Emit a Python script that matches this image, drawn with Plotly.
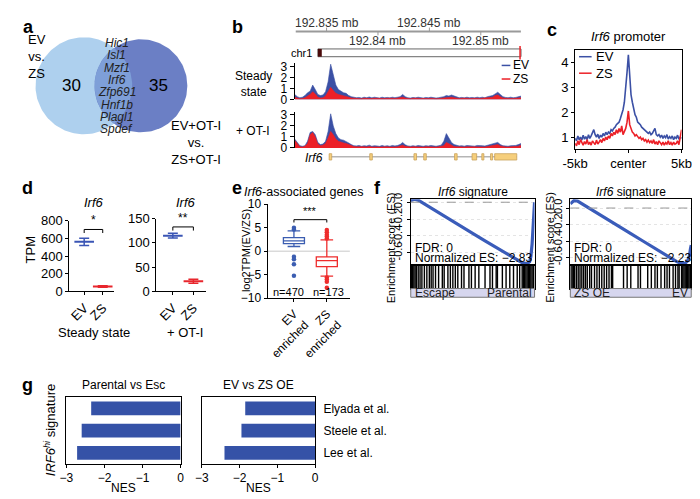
import numpy as np
import plotly.graph_objects as go

W, H = 700, 499
FONT = "Liberation Sans, Arial, Helvetica, sans-serif"
BLUE = "#3b50a5"
RED = "#ec2027"
GSEA_BLUE = "#3a5cba"
BAR_BLUE = "#3552a7"

# ---- a: Venn diagram
venn_counts = [30, 35]
venn_sets = ["EV<br>vs.<br>ZS", "EV+OT-I<br>vs.<br>ZS+OT-I"]
venn_shared = ["Hic1", "Isl1", "Mzf1", "Irf6", "Zfp691", "Hnf1b", "Plagl1", "Spdef"]

# ---- b: genome browser tracks (kb from track start, 0.25 kb bins)
track_start_mb = 192.8319
scale_mb = [192.835, 192.84, 192.845, 192.85]
scale_text = ["192.835 mb", "192.84 mb", "192.845 mb", "192.85 mb"]
track_kb = np.arange(89) * 0.25
ss_ev = [0.45, 0.25, 0.15, 0.2, 0.35, 0.6, 0.75, 1.3, 0.9, 0.45,
         0.35, 0.4, 0.7, 1.6, 3.2, 2.3, 1.3, 0.9, 0.75, 0.6,
         0.55, 0.35, 0.25, 0.2, 0.15, 0.18, 0.12, 0.2, 0.15, 0.22,
         0.14, 0.2, 0.16, 0.12, 0.2, 0.15, 0.18, 0.14, 0.2, 0.16,
         0.2, 0.25, 0.45, 0.25, 0.15, 0.12, 0.18, 0.14, 0.2, 0.15,
         0.12, 0.18, 0.15, 0.2, 0.14, 0.12, 0.16, 0.2, 0.25, 0.35,
         0.3, 0.4, 0.3, 0.2, 0.15, 0.18, 0.14, 0.2, 0.15, 0.18,
         0.14, 0.2, 0.16, 0.2, 0.15, 0.25, 0.3, 0.35, 0.5, 0.65,
         0.45, 0.25, 0.18, 0.15, 0.2, 0.15, 0.18, 0.25, 0.3]
ss_zs = [0.2, 0.1, 0.06, 0.08, 0.15, 0.3, 0.45, 0.7, 0.5, 0.2,
         0.12, 0.15, 0.3, 0.7, 1.1, 0.8, 0.55, 0.45, 0.4, 0.3,
         0.25, 0.2, 0.12, 0.1, 0.08, 0.1, 0.06, 0.1, 0.08, 0.12,
         0.07, 0.1, 0.08, 0.06, 0.1, 0.08, 0.1, 0.07, 0.1, 0.08,
         0.1, 0.12, 0.2, 0.12, 0.08, 0.06, 0.1, 0.07, 0.1, 0.08,
         0.06, 0.1, 0.08, 0.1, 0.07, 0.06, 0.08, 0.1, 0.12, 0.2,
         0.18, 0.2, 0.15, 0.1, 0.08, 0.1, 0.07, 0.1, 0.08, 0.1,
         0.07, 0.1, 0.08, 0.1, 0.08, 0.12, 0.15, 0.2, 0.35, 0.4,
         0.25, 0.12, 0.1, 0.08, 0.1, 0.08, 0.1, 0.12, 0.15]
ot_ev = [0.8, 0.5, 0.2, 0.15, 0.2, 0.6, 1.4, 1.5, 1.2, 0.5,
         0.3, 0.35, 0.6, 1.5, 3.1, 2.0, 1.3, 0.9, 0.75, 0.7,
         0.6, 0.45, 0.3, 0.2, 0.18, 0.22, 0.15, 0.2, 0.17, 0.25,
         0.15, 0.2, 0.18, 0.14, 0.22, 0.16, 0.2, 0.15, 0.22, 0.18,
         0.22, 0.3, 0.5, 0.28, 0.18, 0.15, 0.2, 0.16, 0.22, 0.18,
         0.15, 0.2, 0.17, 0.22, 0.16, 0.15, 0.2, 0.25, 0.6, 1.3,
         0.9, 0.5, 0.3, 0.22, 0.18, 0.2, 0.16, 0.22, 0.18, 0.2,
         0.16, 0.22, 0.18, 0.2, 0.17, 0.25, 0.3, 0.35, 0.45, 0.5,
         0.3, 0.2, 0.18, 0.15, 0.2, 0.18, 0.22, 0.3, 0.4]
ot_zs = [0.7, 0.4, 0.1, 0.08, 0.15, 0.4, 1.2, 1.4, 1.0, 0.35,
         0.2, 0.25, 0.4, 0.9, 1.5, 1.2, 0.8, 0.6, 0.5, 0.45,
         0.4, 0.3, 0.2, 0.12, 0.1, 0.12, 0.08, 0.1, 0.09, 0.12,
         0.08, 0.1, 0.09, 0.07, 0.1, 0.08, 0.1, 0.08, 0.11, 0.09,
         0.1, 0.15, 0.25, 0.14, 0.09, 0.08, 0.1, 0.08, 0.11, 0.09,
         0.07, 0.1, 0.08, 0.1, 0.08, 0.07, 0.1, 0.12, 0.2, 0.5,
         0.35, 0.2, 0.12, 0.1, 0.08, 0.1, 0.08, 0.1, 0.09, 0.1,
         0.08, 0.1, 0.09, 0.1, 0.08, 0.12, 0.15, 0.18, 0.25, 0.3,
         0.18, 0.1, 0.09, 0.08, 0.1, 0.09, 0.1, 0.15, 0.25]
exon_start = [3.35, 7.3, 11.6, 12.55, 15.55, 17.25, 18.2, 19.05, 19.45]
exon_end = [3.6, 7.55, 11.85, 12.8, 15.8, 17.7, 18.4, 19.25, 21.6]

# ---- c: promoter profile
prof_kb = np.arange(81) * 0.125 - 5
prof_ev = [0.95, 0.85, 1.05, 0.9, 1.0, 0.88, 1.08, 0.92, 1.02, 0.9,
           1.1, 0.95, 1.05, 1.15, 1.3, 1.1, 1.0, 1.12, 0.95, 1.08,
           1.0, 1.15, 1.05, 1.2, 1.1, 1.2, 1.15, 1.3, 1.25, 1.35,
           1.4, 1.5, 1.55, 1.6, 1.75, 1.9, 2.1, 2.4, 2.9, 3.6,
           4.3, 3.3, 2.7, 2.4, 2.1, 1.9, 1.8, 1.6, 1.55, 1.5,
           1.4, 1.35, 1.3, 1.25, 1.2, 1.15, 1.2, 1.1, 1.15, 1.25,
           1.35, 1.1, 1.05, 1.1, 1.0, 1.08, 0.95, 1.05, 0.98, 1.1,
           0.92, 1.02, 0.95, 1.05, 0.9, 1.0, 0.95, 1.08, 0.92, 1.0,
           0.95]
prof_zs = [0.75, 0.65, 0.85, 0.7, 0.9, 0.75, 0.68, 0.82, 0.72, 0.9,
           0.7, 0.8, 0.68, 0.85, 0.75, 0.7, 0.88, 0.72, 0.8, 0.9,
           0.78, 0.95, 0.85, 1.0, 0.9, 1.05, 0.95, 1.15, 1.05, 1.2,
           1.1, 1.3, 1.15, 1.35, 1.2, 1.45, 1.1, 1.2, 1.35, 1.6,
           2.05, 1.5, 1.3, 1.2, 1.15, 1.05, 1.1, 1.0, 0.95, 1.0,
           0.9, 0.95, 0.85, 0.9, 0.8, 0.88, 0.78, 0.85, 0.75, 0.9,
           0.72, 0.82, 0.7, 0.85, 0.75, 0.7, 0.8, 0.68, 0.78, 0.72,
           0.85, 0.7, 0.78, 0.68, 0.8, 0.72, 0.75, 0.85, 0.7, 0.95,
           1.3]

# ---- d: Irf6 TPM
d_groups = ["EV", "ZS"]
ss_mean = [560, 55]
ss_err = [40, 8]
ot_mean = [115, 21]
ot_err = [5, 4]
ss_bracket = 700
ot_bracket = 133

# ---- e: Irf6-associated genes
e_groups = ["EV<br>enriched", "ZS<br>enriched"]
e_q1 = [1.6, -3.3]
e_med = [2.2, -2.0]
e_q3 = [2.9, -1.2]
e_lo = [1.0, -5.3]
e_hi = [4.3, 2.4]
e_out = [[5.0, 4.6, -1.2, -1.7, -2.8, -5.2],
         [2.7, 3.1, 3.5, 4.0, 4.5, -5.6, -6.0, -6.5, -7.8]]
e_n = ["n=470", "n=173"]

# ---- f: GSEA
es_rank = [[0, 0.03, 0.06, 0.1, 0.2, 0.3, 0.4, 0.5, 0.6, 0.7, 0.8, 0.86, 0.9, 0.94, 0.96, 0.97, 0.98, 0.99, 1.0],
           [0, 0.03, 0.06, 0.1, 0.2, 0.3, 0.4, 0.5, 0.6, 0.7, 0.8, 0.88, 0.92, 0.95, 0.97, 0.985, 0.993, 1.0]]
es_val = [[0.02, 0.035, 0.025, -0.01, -0.1, -0.19, -0.28, -0.37, -0.46, -0.55, -0.64, -0.69, -0.72, -0.73, -0.71, -0.65, -0.5, -0.25, 0.0],
          [0.05, 0.09, 0.085, 0.05, -0.04, -0.13, -0.22, -0.31, -0.4, -0.49, -0.58, -0.65, -0.675, -0.67, -0.64, -0.58, -0.5, -0.45]]
hits = [[0.005, 0.015, 0.025, 0.035, 0.045, 0.06, 0.075, 0.09, 0.11, 0.13, 0.15, 0.165, 0.18, 0.2,
         0.225, 0.255, 0.27, 0.3, 0.32, 0.34, 0.36, 0.38, 0.41, 0.43, 0.47, 0.49, 0.52, 0.55, 0.6,
         0.64, 0.66, 0.69, 0.7, 0.74, 0.77, 0.8, 0.83, 0.86, 0.88, 0.9, 0.91, 0.92, 0.93, 0.94,
         0.95, 0.96, 0.97, 0.98, 0.99, 0.995],
        [0.005, 0.015, 0.025, 0.035, 0.05, 0.065, 0.08, 0.095, 0.11, 0.125, 0.14, 0.16, 0.175, 0.2,
         0.22, 0.24, 0.26, 0.28, 0.3, 0.32, 0.34, 0.35, 0.44, 0.47, 0.5, 0.56, 0.58, 0.64, 0.67,
         0.7, 0.72, 0.75, 0.78, 0.8, 0.82, 0.85, 0.87, 0.89, 0.9, 0.92, 0.93, 0.94, 0.95, 0.96,
         0.97, 0.98, 0.99, 0.995]]
f_fdr = ["FDR: 0", "FDR: 0"]
f_nes = ["Normalized ES: \u22122.83", "Normalized ES: \u22122.23"]
f_ends = [["Escape", "Parental"], ["ZS OE", "EV"]]

# ---- g: NES bars
g_sets = ["Lee et al.", "Steele et al.", "Elyada et al."]
g_parental = [-2.72, -2.6, -2.35]
g_zsoe = [-2.4, -1.95, -1.85]
g_titles = ["Parental vs Esc", "EV vs ZS OE"]


def xd(a, b):
    return [a / W, b / W]


def yd(top, bot):
    return [1 - bot / H, 1 - top / H]


annotations = []
shapes = []


def text(s, x, y, size=12, xa="center", ya="middle", angle=0, color="black"):
    annotations.append(dict(text=s, x=x / W, y=1 - y / H, xref="paper", yref="paper",
                            showarrow=False, xanchor=xa, yanchor=ya, textangle=angle,
                            font=dict(size=size, color=color, family=FONT)))


def pline(x0, y0, x1, y1, color="black", width=1, dash="solid"):
    shapes.append(dict(type="line", xref="paper", yref="paper", x0=x0 / W, x1=x1 / W,
                       y0=1 - y0 / H, y1=1 - y1 / H, line=dict(color=color, width=width, dash=dash)))


def prect(x0, y0, x1, y1, fill, line="rgba(0,0,0,0)", width=1):
    shapes.append(dict(type="rect", xref="paper", yref="paper", x0=x0 / W, x1=x1 / W,
                       y0=1 - y1 / H, y1=1 - y0 / H, fillcolor=fill, line=dict(color=line, width=width)))


def ax(**kw):
    d = dict(showgrid=False, zeroline=False, showline=True, linecolor="black", linewidth=1,
             ticks="outside", ticklen=3, tickwidth=1, tickcolor="black",
             tickfont=dict(size=12, family=FONT, color="black"), fixedrange=True)
    d.update(kw)
    return d


fig = go.Figure()
axes = {}

# ================= a: Venn =================
axes["xaxis"] = dict(domain=[0, 1], range=[0, W], visible=False, fixedrange=True)
axes["yaxis"] = dict(domain=[0, 1], range=[H, 0], visible=False, fixedrange=True)
c1, c2 = (65, 73, 50), (124, 73, 48)
t = np.linspace(0, 2 * np.pi, 160)
for (cx, cy, r), col in [(c1, "#aed0ee"), (c2, "#6b7fc5")]:
    fig.add_trace(go.Scatter(x=cx + r * np.cos(t), y=cy + r * np.sin(t), fill="toself", mode="lines",
                             line=dict(width=0), fillcolor=col, hoverinfo="skip", xaxis="x", yaxis="y"))
dd = c2[0] - c1[0]
aa = (c1[2] ** 2 - c2[2] ** 2 + dd ** 2) / (2 * dd)
hh = np.sqrt(c1[2] ** 2 - aa ** 2)
t1 = np.arctan2(hh, aa)
t2 = np.arctan2(hh, aa - dd)
arc1 = np.linspace(-t1, t1, 60)
arc2 = np.linspace(t2, 2 * np.pi - t2, 60)
lx = np.concatenate([c1[0] + c1[2] * np.cos(arc1), c2[0] + c2[2] * np.cos(arc2)])
ly = np.concatenate([c1[1] + c1[2] * np.sin(arc1), c2[1] + c2[2] * np.sin(arc2)])
fig.add_trace(go.Scatter(x=lx, y=ly, fill="toself", mode="lines", line=dict(width=0),
                         fillcolor="#7e9fd8", hoverinfo="skip", xaxis="x", yaxis="y"))

text(venn_sets[0], 5, 43, size=13, xa="left")
text(venn_sets[1], 181, 131, size=13)
text(str(venn_counts[0]), 52, 73, size=17)
text(str(venn_counts[1]), 142, 73, size=17)
for i, g in enumerate(venn_shared):
    text("<i>%s</i>" % g, 99, 29 + i * 12.7, size=12, color="#222")

# ================= b: genome browser =================
for k, (ev, zs, top) in enumerate([(ss_ev, ss_zs, 49.6), (ot_ev, ot_zs, 99.6)]):
    n = k + 2
    axes["xaxis%d" % n] = ax(domain=xd(283, 519), range=[0, 22.2], visible=False, anchor="y%d" % n)
    axes["yaxis%d" % n] = ax(domain=yd(top, top + 37.4), range=[0, 3.3], tickvals=[0, 1, 2, 3],
                             ticklen=4, anchor="x%d" % n)
    for vals, col in [(ev, BLUE), (zs, RED)]:
        fig.add_trace(go.Scatter(x=track_kb, y=vals, mode="lines", fill="tozeroy", fillcolor=col,
                                 line=dict(color=col, width=0.6), hoverinfo="skip",
                                 xaxis="x%d" % n, yaxis="y%d" % n))

# overlay axis for scale bar and gene model (kb horizontally, px vertically)
axes["xaxis4"] = dict(domain=xd(283, 519), range=[0, 22.2], visible=False, fixedrange=True, anchor="y4")
axes["yaxis4"] = dict(domain=yd(0, 160), range=[160, 0], visible=False, fixedrange=True, anchor="x4")
scale_kb = [(m - track_start_mb) * 1000 for m in scale_mb]
fig.add_trace(go.Scatter(x=[track_kb[0] + 0.1, track_kb[-1]], y=[17, 17], mode="lines",
                         line=dict(color="#9a9a9a", width=2.2), hoverinfo="skip", xaxis="x4", yaxis="y4"))
for i, (kb, lab) in enumerate(zip(scale_kb, scale_text)):
    up = i % 2 == 0
    fig.add_trace(go.Scatter(x=[kb, kb], y=[17, 13 if up else 21], mode="lines",
                             line=dict(color="#9a9a9a", width=1), hoverinfo="skip", xaxis="x4", yaxis="y4"))
    annotations.append(dict(text=lab, x=kb, y=8 if up else 27, xref="x4", yref="y4", showarrow=False,
                            font=dict(size=12, family=FONT, color="#333")))
gx, gy = [], []
for s, e in zip(exon_start, exon_end):
    gx += [s, e, e, s, s, None]
    gy += [143, 143, 149.5, 149.5, 143, None]
fig.add_trace(go.Scatter(x=[exon_start[0], exon_end[-1]], y=[146.2, 146.2], mode="lines",
                         line=dict(color="#b5b5b5", width=1.5), hoverinfo="skip", xaxis="x4", yaxis="y4"))
fig.add_trace(go.Scatter(x=gx, y=gy, mode="lines", fill="toself", fillcolor="#f6cf7c",
                         line=dict(color="#c9a25a", width=0.8), hoverinfo="skip", xaxis="x4", yaxis="y4"))
text("<i>Irf6</i>", 314, 147, size=12, xa="right")

# chromosome ideogram
text("chr1", 303, 39, size=11, xa="right")
prect(307, 35, 517, 43, "white", line="#666", width=1)
prect(307, 35, 311, 43, "#4a0a0a")
pline(516, 32, 516, 46, color=RED, width=1.5)

text("Steady<br>state", 240, 71, size=12)
text("+ OT-I", 240, 120, size=12)
pline(497, 52, 506, 52, color=BLUE, width=1.5)
text("EV", 507, 52, size=12, xa="left")
pline(497, 66, 506, 66, color=RED, width=1.5)
text("ZS", 507, 66, size=12, xa="left")

# ================= c: promoter profile =================
axes["xaxis5"] = ax(domain=xd(573, 683), range=[-5, 5], tickvals=[-5, 0, 5],
                    ticktext=["-5kb", "center", "5kb"], mirror=True, anchor="y5",
                    tickfont=dict(size=13, family=FONT, color="black"))
axes["yaxis5"] = ax(domain=yd(36, 138), range=[0.53, 4.5], tickvals=[1, 2, 3, 4], mirror=True, anchor="x5",
                    tickfont=dict(size=13, family=FONT, color="black"))
fig.add_trace(go.Scatter(x=prof_kb, y=prof_ev, mode="lines", line=dict(color=BLUE, width=1.6),
                         hoverinfo="skip", xaxis="x5", yaxis="y5"))
fig.add_trace(go.Scatter(x=prof_kb, y=prof_zs, mode="lines", line=dict(color=RED, width=1.6),
                         hoverinfo="skip", xaxis="x5", yaxis="y5"))
text("<i>Irf6</i> promoter", 628, 22, size=13)
pline(577, 43, 590, 43, color=BLUE, width=1.5)
text("EV", 592, 43, size=13, xa="left")
pline(577, 60, 590, 60, color=RED, width=1.5)
text("ZS", 592, 60, size=13, xa="left")

# ================= d: TPM =================
DBLUE, DRED = "#3a55b5", "#e8262d"
for n, (xdom, top, rng, tv, mean, err, br) in {
        6: ((50, 96), 212, [0, 800], [0, 200, 400, 600, 800], ss_mean, ss_err, ss_bracket),
        7: ((140, 191), 210, [0, 150], [0, 50, 100, 150], ot_mean, ot_err, ot_bracket)}.items():
    axes["xaxis%d" % n] = ax(domain=xd(*xdom), range=[-0.8, 1.6], tickvals=[0, 1], ticktext=d_groups,
                             tickangle=-45, anchor="y%d" % n, tickfont=dict(size=13, family=FONT))
    axes["yaxis%d" % n] = ax(domain=yd(top, 285), range=rng, tickvals=tv, anchor="x%d" % n,
                             tickfont=dict(size=13, family=FONT))
    for i, col in enumerate([DBLUE, DRED]):
        fig.add_trace(go.Scatter(x=[i], y=[mean[i]], mode="markers",
                                 marker=dict(symbol="line-ew", size=14, line=dict(width=2, color=col)),
                                 error_y=dict(type="data", array=[err[i]], width=5, thickness=1.5, color=col),
                                 hoverinfo="skip", xaxis="x%d" % n, yaxis="y%d" % n))
    drop = rng[1] * 0.05
    fig.add_trace(go.Scatter(x=[0, 0, 1, 1], y=[br - drop, br, br, br - drop], mode="lines",
                             line=dict(color="black", width=1), hoverinfo="skip",
                             xaxis="x%d" % n, yaxis="y%d" % n))
    annotations.append(dict(text="*" if n == 6 else "**", x=0.5, y=br, xref="x%d" % n, yref="y%d" % n,
                            yanchor="bottom", showarrow=False, font=dict(size=12, family=FONT)))
text("TPM", 10, 242, size=13, angle=-90)
text("<i>Irf6</i>", 75, 193, size=13)
text("<i>Irf6</i>", 171, 193, size=13)
text("Steady state", 75, 327, size=13)
text("+ OT-I", 170, 327, size=13)

# ================= e: box plot =================
EBLUE, ERED = "#3b5db1", "#ee2d2d"
axes["xaxis8"] = ax(domain=xd(255, 340), range=[-0.8, 1.7], tickvals=[0, 1], ticktext=e_groups,
                    tickangle=-45, anchor="y8")
axes["yaxis8"] = ax(domain=yd(195, 292), range=[-10, 10], tickvals=[-10, -5, 0, 5, 10], anchor="x8")
shapes.append(dict(type="line", xref="x8 domain", yref="y8", x0=0, x1=1, y0=0, y1=0,
                   line=dict(color="#c8c8c8", width=1), layer="below"))
for i, col in enumerate([EBLUE, ERED]):
    fig.add_trace(go.Box(x=[i], q1=[e_q1[i]], median=[e_med[i]], q3=[e_q3[i]],
                         lowerfence=[e_lo[i]], upperfence=[e_hi[i]], width=0.64, whiskerwidth=0.6,
                         fillcolor="white", line=dict(color=col, width=1.3), boxpoints=False,
                         hoverinfo="skip", xaxis="x8", yaxis="y8"))
    fig.add_trace(go.Scatter(x=[i] * len(e_out[i]), y=e_out[i], mode="markers",
                             marker=dict(color=col, size=4.5), hoverinfo="skip", xaxis="x8", yaxis="y8"))
    annotations.append(dict(text=e_n[i], x=i, y=-8.7, xref="x8", yref="y8", showarrow=False,
                            xshift=-5 if i == 0 else 2, font=dict(size=11, family=FONT)))
fig.add_trace(go.Scatter(x=[0, 0, 1, 1], y=[6.1, 6.7, 6.7, 6.1], mode="lines",
                         line=dict(color="black", width=1), hoverinfo="skip", xaxis="x8", yaxis="y8"))
annotations.append(dict(text="***", x=0.5, y=6.9, xref="x8", yref="y8", yanchor="bottom",
                        showarrow=False, font=dict(size=11, family=FONT)))
text("log2TPM(EV/ZS)", 232, 243, size=11, angle=-90)
text("<i>Irf6</i>-associated genes", 293, 183, size=12.5)

# ================= f: GSEA =================
f_x = [(403, 531), (568, 693)]
f_rng = [[-0.75, 0.035], [-0.694, 0.106]]
for k in range(2):
    ne, nb = 9 + 2 * k, 10 + 2 * k
    x0, x1 = f_x[k]
    axes["xaxis%d" % ne] = ax(domain=xd(x0, x1), range=[0, 1], showticklabels=False, ticks="",
                              mirror=True, anchor="y%d" % ne)
    axes["yaxis%d" % ne] = ax(domain=yd(190, 258), range=f_rng[k], tickvals=[0, -0.2, -0.4, -0.6],
                              ticktext=["0.0", "-0.2", "-0.4", "-0.6"], tickangle=-90, mirror=True,
                              showgrid=True, gridcolor="#e4e4e4", griddash="dot",
                              anchor="x%d" % ne, tickfont=dict(size=11, family=FONT))
    axes["xaxis%d" % nb] = ax(domain=xd(x0, x1), range=[0, 1], showticklabels=False, ticks="",
                              mirror=True, anchor="y%d" % nb)
    axes["yaxis%d" % nb] = ax(domain=yd(258, 282), range=[0, 1], showticklabels=False, ticks="",
                              mirror=True, anchor="x%d" % nb)
    shapes.append(dict(type="line", xref="x%d domain" % ne, yref="y%d" % ne, x0=0, x1=1, y0=0, y1=0,
                       line=dict(color="#999", width=1, dash="dash")))
    fig.add_trace(go.Scatter(x=es_rank[k], y=es_val[k], mode="lines", line=dict(color=GSEA_BLUE, width=3.2),
                             hoverinfo="skip", xaxis="x%d" % ne, yaxis="y%d" % ne))
    bx, by = [], []
    for h in hits[k]:
        bx += [h, h, None]
        by += [0, 1, None]
    fig.add_trace(go.Scatter(x=bx, y=by, mode="lines", line=dict(color="black", width=1.4),
                             hoverinfo="skip", xaxis="x%d" % nb, yaxis="y%d" % nb))
    prect(x0, 282, x1, 291, "#d6d6ee", line="#777", width=1)
    text(f_ends[k][0], x0 + 2, 287, size=12, xa="left", color="#222")
    text(f_ends[k][1], x1 - 1, 287, size=12, xa="right", color="#222")
    text(f_fdr[k], x0 + 2, 240, size=12, xa="left")
    text(f_nes[k], x0 + 2, 251, size=12, xa="left")
    text("<i>Irf6</i> signature", (x0 + x1) / 2, 182, size=12)
    text("Enrichment score (ES)", x0 - 21, 240, size=11, angle=-90)

# ================= g: NES bars =================
for k, (vals, xdom) in enumerate([(g_parental, (47, 165)), (g_zsoe, (187, 304))]):
    n = 13 + k
    axes["xaxis%d" % n] = ax(domain=xd(*xdom), range=[-3, 0], tickvals=[-3, -2, -1, 0], mirror=True,
                             anchor="y%d" % n)
    yopts = dict(domain=yd(394, 463), showticklabels=False, ticks="", mirror=True, anchor="x%d" % n)
    if k == 1:
        yopts.update(side="right", showticklabels=True, ticklabelstandoff=5)
    axes["yaxis%d" % n] = ax(**yopts)
    fig.add_trace(go.Bar(y=g_sets, x=vals, orientation="h", width=0.62, marker=dict(color=BAR_BLUE, line=dict(width=0)),
                         hoverinfo="skip", xaxis="x%d" % n, yaxis="y%d" % n))
    cx = (xdom[0] + xdom[1]) / 2
    text(g_titles[k], cx, 381, size=12)
    text("NES", cx, 488, size=12)
text("<i>IRF6</i><sup><i>hi</i></sup> signature", 30, 428, size=13, angle=-90)

# panel letters
for lab, x, y in [("a", 8, 12), ("b", 224, 12), ("c", 549, 15), ("d", 7, 178),
                  ("e", 223, 178), ("f", 369, 178), ("g", 7, 381)]:
    text("<b>%s</b>" % lab, x, y, size=18)

fig.update_layout(width=W, height=H, margin=dict(l=0, r=0, t=0, b=0), showlegend=False,
                  paper_bgcolor="white", plot_bgcolor="rgba(0,0,0,0)",
                  font=dict(family=FONT, size=12, color="black"),
                  annotations=annotations, shapes=shapes, barmode="overlay", **axes)
fig.write_html("out.html")
